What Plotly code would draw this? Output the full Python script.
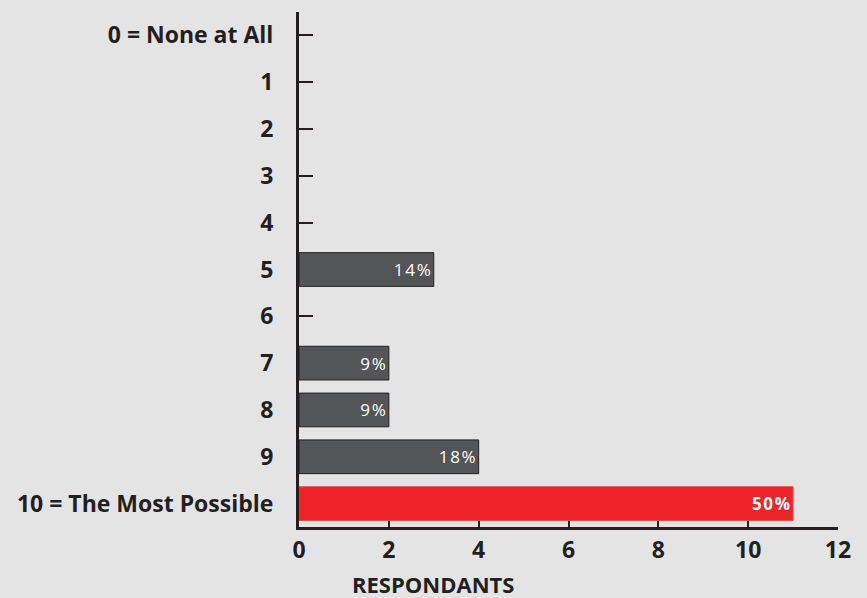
import plotly.graph_objects as go

categories = ["0 = None at All", "1", "2", "3", "4", "5", "6", "7", "8", "9", "10 = The Most Possible"]
respondents = [0, 0, 0, 0, 0, 3, 0, 2, 2, 4, 11]
pct_labels = ["", "", "", "", "", "14%", "", "9%", "9%", "18%", "50%"]

GRAY = "#545557"
RED = "#ee2227"
INK = "#231f20"
BG = "#e4e4e4"
FONT = "Open Sans"

is_top = [c.startswith("10") for c in categories]
colors = [RED if t else GRAY for t in is_top]
lines = ["#f04448" if t else INK for t in is_top]
line_w = [1 if v > 0 else 0 for v in respondents]
weights = ["bold" if t else "normal" for t in is_top]

def spaced(s):
    return "\u200a".join(list(s))

fig = go.Figure(go.Bar(
    x=respondents,
    y=categories,
    orientation="h",
    width=0.72,
    marker=dict(color=colors, line=dict(color=lines, width=line_w)),
    text=[spaced(t) for t in pct_labels],
    textposition="inside",
    insidetextanchor="end",
    textangle=0,
    textfont=dict(color="white", size=17, family=FONT, weight=weights),
    hoverinfo="skip",
))

fig.update_layout(
    width=867, height=598,
    margin=dict(l=299, r=29, t=12, b=71),
    paper_bgcolor=BG, plot_bgcolor=BG,
    showlegend=False,
    font=dict(family=FONT, color=INK),
)

fig.update_xaxes(
    range=[0, 12], tickvals=[0, 2, 4, 6, 8, 10, 12],
    showgrid=False, zeroline=False,
    showline=True, linecolor=INK, linewidth=3,
    ticks="inside", ticklen=12, tickwidth=2, tickcolor=INK,
    layer="below traces",
    ticklabelstandoff=0,
    tickfont=dict(size=23, family=FONT, weight="bold", color=INK),
)
fig.update_yaxes(
    range=[10.5, -0.5], categoryorder="array", categoryarray=categories,
    showgrid=False, zeroline=False,
    showline=True, linecolor=INK, linewidth=3,
    ticks="inside", ticklen=14, tickwidth=2, tickcolor=INK,
    layer="below traces",
    ticklabelstandoff=18,
    tickfont=dict(size=23, family=FONT, weight="bold", color=INK),
)

fig.add_annotation(
    text="RESPONDANTS", xref="paper", yref="paper",
    x=(433 - 299) / (867 - 299 - 29), y=-(584 - 527) / (527 - 12),
    xanchor="center", yanchor="middle", showarrow=False,
    font=dict(size=22, family=FONT, weight="bold", color=INK),
)

fig.write_html("out.html")
